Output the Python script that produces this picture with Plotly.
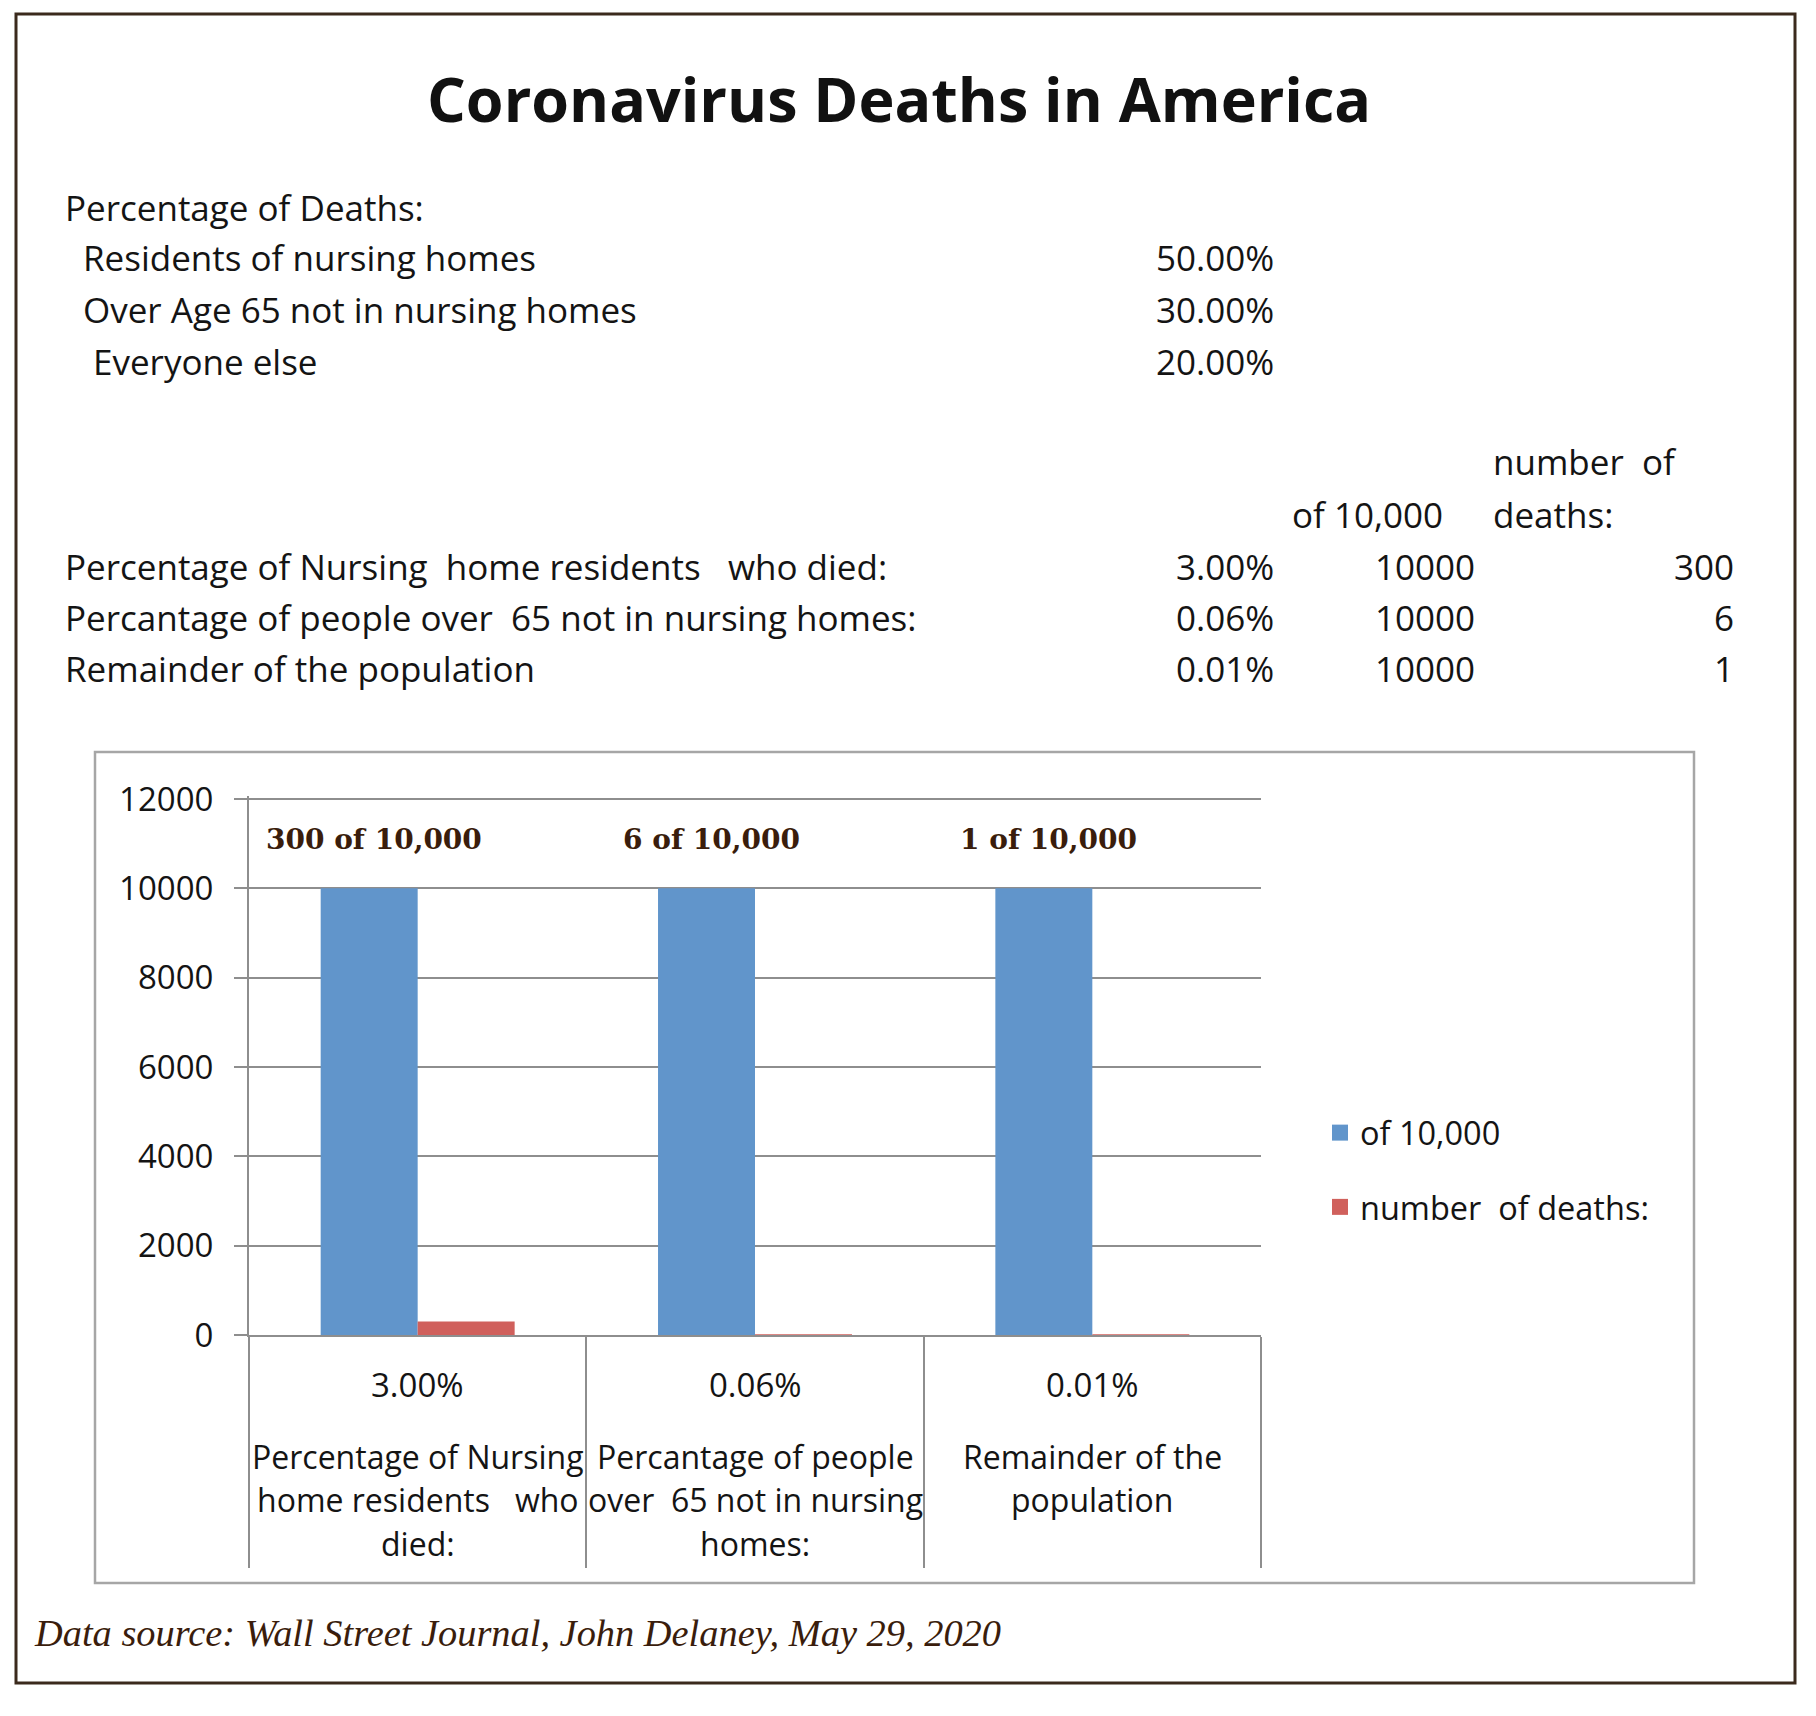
import plotly.graph_objects as go

# ---------------- data ----------------
title_text = "Coronavirus Deaths in America"
share_header = "Percentage of Deaths:"
share_groups = ["Residents of nursing homes", "Over Age 65 not in nursing homes", "Everyone else"]
share_values = ["50.00%", "30.00%", "20.00%"]

categories = ["Percentage of Nursing  home residents   who died:",
              "Percantage of people over  65 not in nursing homes:",
              "Remainder of the population"]
category_lines = [["Percentage of Nursing", "home residents   who", "died:"],
                  ["Percantage of people", "over  65 not in nursing", "homes:"],
                  ["Remainder of the", "population"]]
death_rates = ["3.00%", "0.06%", "0.01%"]
of_10000 = [10000, 10000, 10000]
deaths = [300, 6, 1]
bar_labels = ["300 of 10,000", "6 of 10,000", "1 of 10,000"]
series_names = ["of 10,000", "number  of deaths:"]
y_ticks = [0, 2000, 4000, 6000, 8000, 10000, 12000]
source_text = "Data source: Wall Street Journal, John Delaney, May 29, 2020"

# ---------------- layout constants ----------------
W, H = 1816, 1716
SANS = "'Open Sans', 'Noto Sans', sans-serif"
SERIF = "'Liberation Serif', 'Times New Roman', serif"
SERIF_B = "'DejaVu Serif', serif"
BLUE = "#6195CB"
RED = "#D0605C"
GRID = "#8E8E8E"
BROWN = "#3A1D0C"
INK = "#141414"
TABLE = 35
CAT = 32
NUM = 33
LEG = 32.5
BARGAP = 0.425
Y_TOP = 12060          # tiny headroom so the 12000 gridline is kept
PX_PER_UNIT = (1335 - 799) / 12000


def nb(s):
    return s.replace(" ", "\u00a0")


def px(x):
    return x / W


def py(y):
    return 1 - y / H


colors = [BLUE, RED]
fig = go.Figure()
fig.add_trace(go.Bar(x=death_rates, y=of_10000, name=nb(series_names[0]), showlegend=False,
                     marker=dict(color=BLUE, line=dict(width=0))))
fig.add_trace(go.Bar(x=death_rates, y=deaths, name=nb(series_names[1]), showlegend=False,
                     marker=dict(color=RED, line=dict(width=0))))
# legend entries (square swatches like the original)
for k, nm in enumerate(series_names):
    fig.add_trace(go.Scatter(x=[None], y=[None], mode="markers", name=nb(nm),
                             legendgroup=str(k),
                             marker=dict(symbol="square", size=16, color=colors[k])))

ann = []


def text(x, y, s, xanchor="left", size=TABLE, family=SANS, color=INK, **kw):
    ann.append(dict(x=px(x), y=py(y), xref="paper", yref="paper", text=s,
                    showarrow=False, xanchor=xanchor, yanchor="middle",
                    font=dict(size=size, family=family, color=color), **kw))


# title
text(899, 98, "<b>" + title_text + "</b>", xanchor="center", size=61, color="#111111")

# share of deaths table
text(63, 207, share_header)
share_x = [81, 81, 91]
for i, (g, v) in enumerate(zip(share_groups, share_values)):
    yy = 258 + i * 51.5
    text(share_x[i], yy, nb(g))
    text(1276, yy, v, xanchor="right")

# rates table
text(1491, 462, nb("number  of"))
text(1445, 514, series_names[0], xanchor="right")
text(1491, 514, "deaths:")
for i in range(3):
    yy = 566 + i * 51.5
    text(63, yy, nb(categories[i]))
    text(1276, yy, death_rates[i], xanchor="right")
    text(1477, yy, str(of_10000[i]), xanchor="right")
    text(1736, yy, str(deaths[i]), xanchor="right")

# category labels under the axis
for i, r in enumerate(death_rates):
    ann.append(dict(x=i, y=py(1384), xref="x", yref="paper", text=r, showarrow=False,
                    xanchor="center", yanchor="middle",
                    font=dict(size=NUM, family=SANS, color=INK)))
    for j, line in enumerate(category_lines[i]):
        ann.append(dict(x=i, y=py(1456 + j * 43.5), xref="x", yref="paper", text=nb(line),
                        showarrow=False, xanchor="center", yanchor="middle",
                        font=dict(size=CAT, family=SANS, color=INK)))

# data labels above the blue bars
half = (1 - BARGAP) / 4
for i, lab in enumerate(bar_labels):
    ann.append(dict(x=i - half, y=11100, xref="x", yref="y", text="<b>" + lab + "</b>",
                    showarrow=False, xanchor="center", yanchor="middle", xshift=5,
                    font=dict(size=28, family=SERIF_B, color=BROWN)))

# source
text(32, 1633, "<i>" + source_text + "</i>", size=38.4, family=SERIF, color=BROWN)

shapes = [
    dict(type="rect", xref="paper", yref="paper", x0=px(16), x1=px(1795), y0=py(1683), y1=py(14),
         line=dict(color="#3B2A1C", width=3), layer="below"),
    dict(type="rect", xref="paper", yref="paper", x0=px(95), x1=px(1694), y0=py(1583), y1=py(752),
         line=dict(color="#A6A6A6", width=2.5), layer="below"),
]

y_top_px = 1335 - Y_TOP * PX_PER_UNIT

fig.update_layout(
    width=W, height=H, margin=dict(l=0, r=0, t=0, b=0, pad=0, autoexpand=False),
    paper_bgcolor="white", plot_bgcolor="white",
    barmode="group", bargap=BARGAP, bargroupgap=0,
    font=dict(family=SANS, size=TABLE, color=INK),
    annotations=ann, shapes=shapes,
    showlegend=True,
    legend=dict(x=px(1320), y=py(1105), xanchor="left", yanchor="top",
                font=dict(size=LEG, family=SANS, color=INK),
                traceorder="grouped", tracegroupgap=29, bgcolor="rgba(0,0,0,0)"),
    xaxis=dict(domain=[px(249), px(1261)], type="category", range=[-0.5, 2.5],
               showticklabels=False,
               ticks="outside", tickson="boundaries", ticklen=231, tickwidth=2, tickcolor=GRID,
               showline=True, linecolor=GRID, linewidth=2, showgrid=False, fixedrange=True,
               automargin=False),
    yaxis=dict(domain=[py(1335), py(y_top_px)], range=[0, Y_TOP], tickvals=y_ticks,
               ticktext=[str(v) for v in y_ticks],
               ticks="outside", ticklen=13, tickwidth=2, tickcolor=GRID,
               showline=True, linecolor=GRID, linewidth=2,
               showgrid=True, gridcolor=GRID, gridwidth=2, zeroline=False,
               tickfont=dict(size=NUM, family=SANS, color=INK),
               ticklabelstandoff=14, fixedrange=True, automargin=False),
)

fig.write_html("out.html", config={"displayModeBar": False},
               post_script="document.body.style.margin='0';")
